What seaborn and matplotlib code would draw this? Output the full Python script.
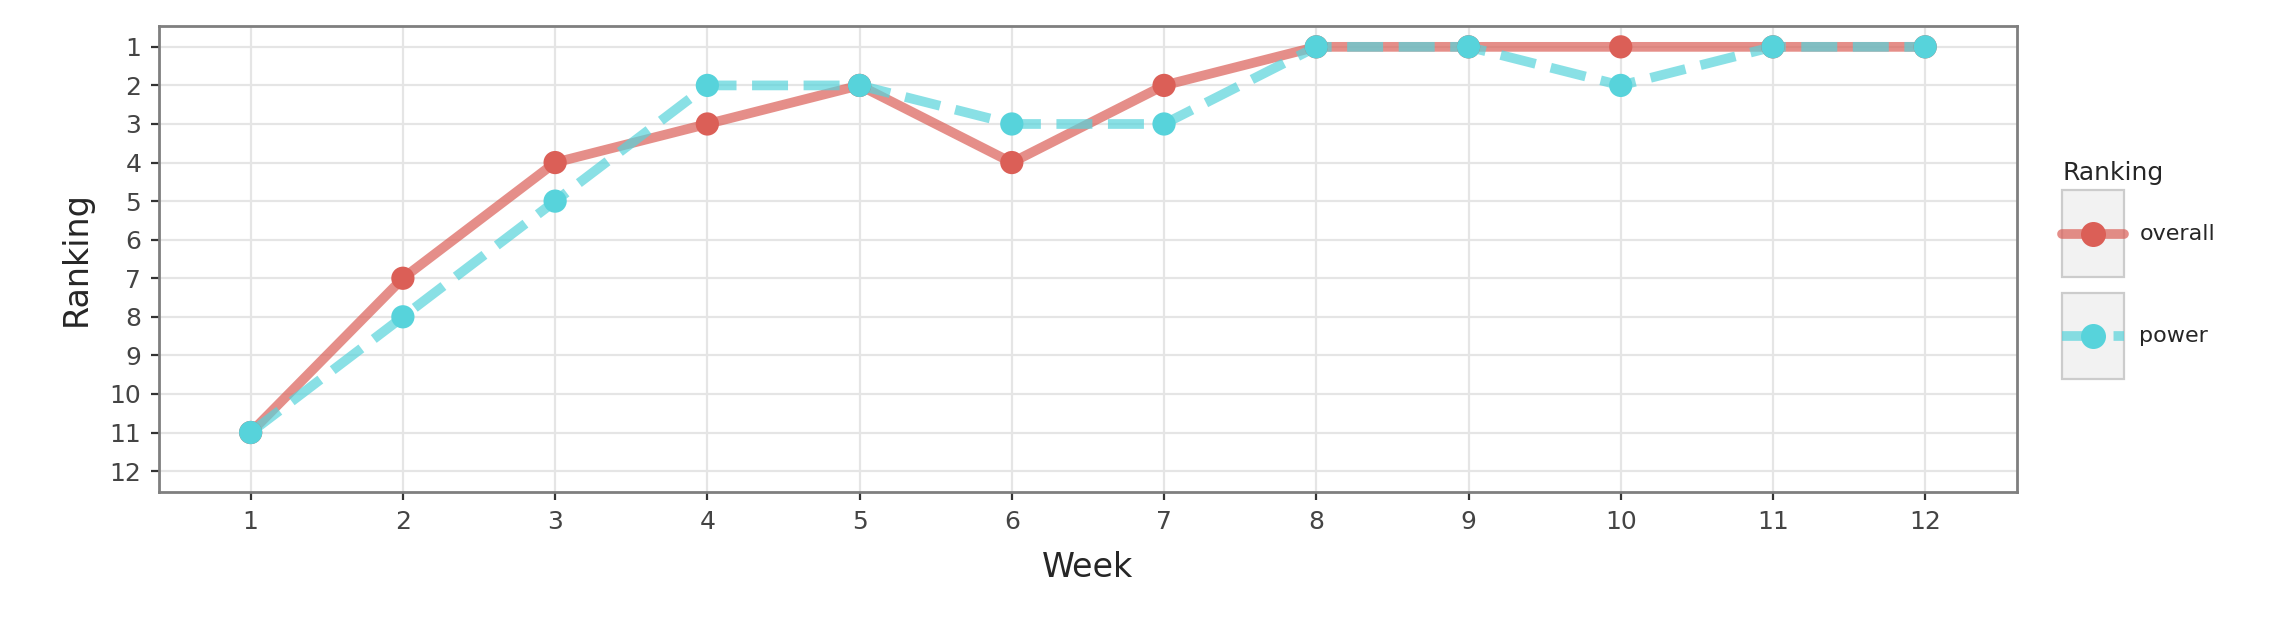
import pandas as pd
import matplotlib.pyplot as plt
import seaborn as sns
from matplotlib.lines import Line2D
from matplotlib.patches import Rectangle

weeks = list(range(1, 13))
overall = [11, 7, 4, 3, 2, 4, 2, 1, 1, 1, 1, 1]
power = [11, 8, 5, 2, 2, 3, 3, 1, 1, 2, 1, 1]
series_names = ['overall', 'power']
colors = ['#DB5F57', '#57D3DB']

df = pd.DataFrame({
    'Week': weeks * 2,
    'Ranking': overall + power,
    'type': ['overall'] * 12 + ['power'] * 12,
})

sns.set_style('whitegrid')
plt.rcParams['font.family'] = ['DejaVu Sans']

fig = plt.figure(figsize=(11.38, 3.205), dpi=200)
ax = fig.add_axes([0.07, 0.232, 0.816, 0.728])

styles = {'overall': '-', 'power': '--'}
for name, col in zip(series_names, colors):
    d = df[df['type'] == name]
    sns.lineplot(data=d, x='Week', y='Ranking', color=col, alpha=0.7,
                 linewidth=3.5, linestyle=styles[name], ax=ax)
    sns.scatterplot(data=d, x='Week', y='Ranking', color=col, s=70,
                    edgecolor='none', ax=ax, zorder=3)

ax.set_xlim(0.4, 12.6)
ax.set_ylim(12.55, 0.45)
ax.set_xticks(weeks)
ax.set_yticks(range(1, 13))
ax.tick_params(labelsize=9, labelcolor='#444444', color='#333333', length=3,
               width=0.8, bottom=True, left=True)
ax.set_xlabel('Week', fontsize=12, labelpad=6)
ax.set_ylabel('Ranking', fontsize=12, labelpad=6)
ax.grid(color='#e5e5e5', linewidth=0.8)
for s in ax.spines.values():
    s.set_color('#7f7f7f')
    s.set_linewidth(1)

# legend keys with grey background boxes
for i, (n, c) in enumerate(zip(series_names, colors)):
    y0 = 0.568 - i * 0.16
    fig.add_artist(Rectangle((0.906, y0), 0.027, 0.135, transform=fig.transFigure,
                             facecolor='#f2f2f2', edgecolor='#cccccc', linewidth=0.8))
    fig.add_artist(Line2D([0.906, 0.933], [y0 + 0.0675] * 2, transform=fig.transFigure,
                          color=c, linestyle=styles[n], linewidth=3.5, alpha=0.7))
    fig.add_artist(Line2D([0.9195], [y0 + 0.0675], transform=fig.transFigure,
                          marker='o', markersize=8, color=c, markeredgecolor=c))
    fig.text(0.94, y0 + 0.0675, n, fontsize=8, va='center', ha='left')
fig.text(0.906, 0.73, 'Ranking', fontsize=9, va='center', ha='left')

fig.savefig('out.png', dpi=200)
